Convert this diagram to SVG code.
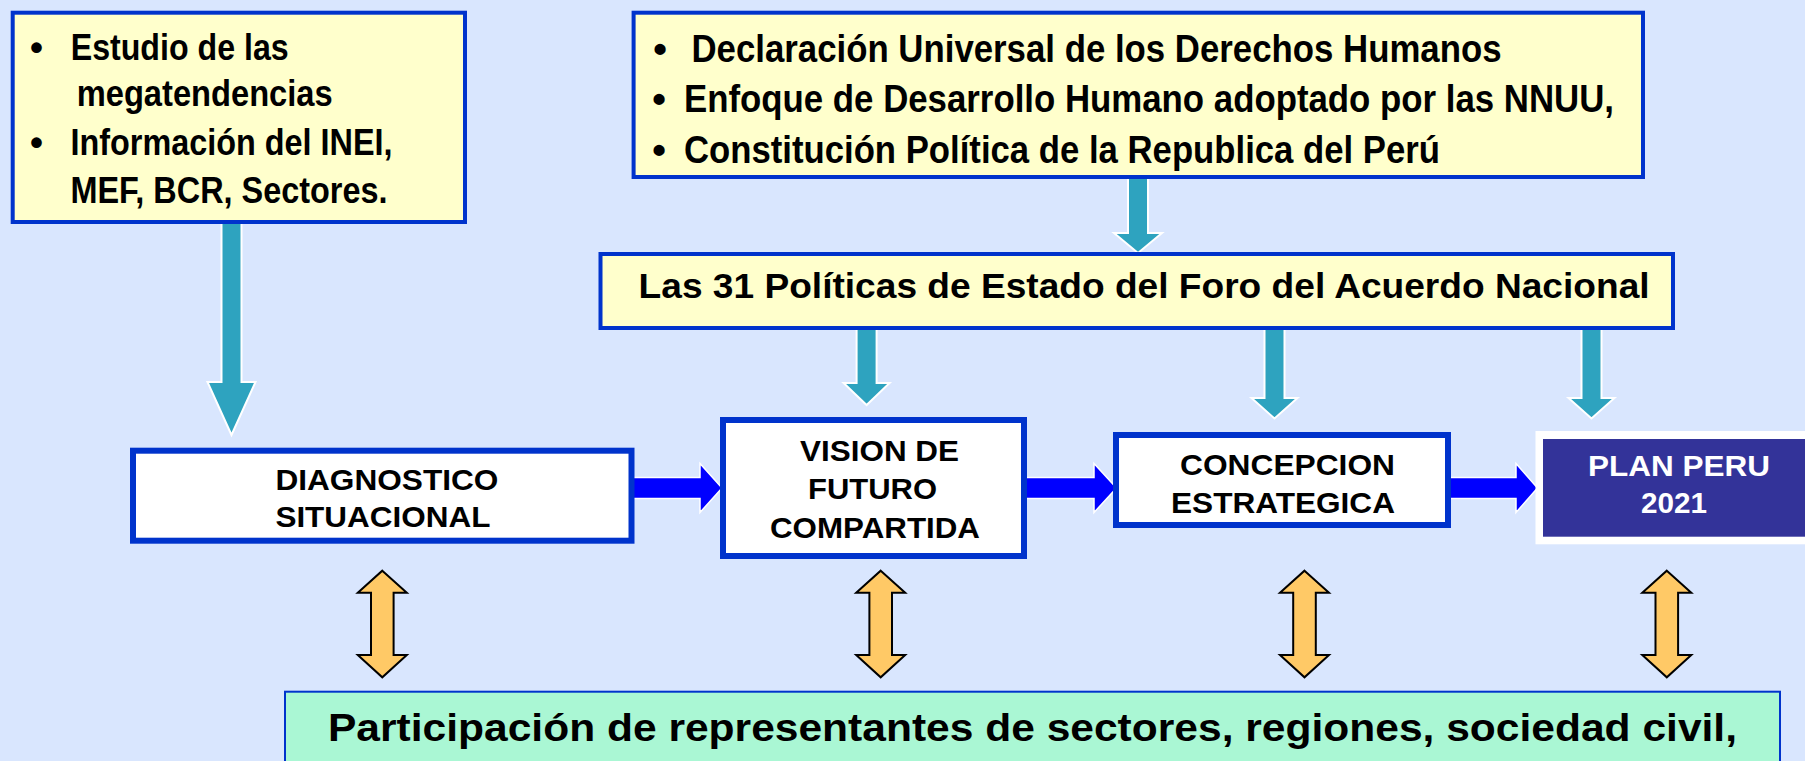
<svg xmlns="http://www.w3.org/2000/svg" width="1805" height="761" viewBox="0 0 1805 761">
<style>
text{font-family:"Liberation Sans",Arial,sans-serif;font-weight:bold;fill:#000}
.src{fill:#FFFFCC;stroke:#0033CC;stroke-width:4}
.node{fill:#FFFFFF;stroke:#0033CC;stroke-width:6}
.teal{fill:#2EA3BF;stroke:#FFFFFF;stroke-width:2;stroke-linejoin:miter}
.blue{fill:#0000FF;stroke:#FFFFFF;stroke-width:1.5}
.orange{fill:#FFC966;stroke:#000;stroke-width:2}
.t36{font-size:37px}
.t38{font-size:39px}
.t35{font-size:35.5px}
.t29{font-size:29.5px}
.t39{font-size:39.5px}
.w{fill:#FFFFFF}
</style>
<rect x="0" y="0" width="1805" height="761" fill="#D9E6FE"/>

<g id="connectors">
  <polygon class="teal" points="221.5,222 241.5,222 241.5,382 255.5,382 231.5,435 207.5,382 221.5,382"/>
  <polygon class="teal" points="1128,177 1148,177 1148,233 1162,233 1138,253 1114,233 1128,233"/>
  <polygon class="teal" points="856.6,328 876.6,328 876.6,383 889.6,383 866.6,405 843.6,383 856.6,383"/>
  <polygon class="teal" points="1264.5,328 1284.5,328 1284.5,398 1297.5,398 1274.5,418.5 1251.5,398 1264.5,398"/>
  <polygon class="teal" points="1581.5,328 1601.5,328 1601.5,398 1614.5,398 1591.5,418.5 1568.5,398 1581.5,398"/>
  <polygon class="blue" points="632,477.5 700,477.5 700,463.5 722,488 700,512.5 700,498.5 632,498.5"/>
  <polygon class="blue" points="1025,477.5 1094,477.5 1094,463.5 1116.5,488 1094,512.5 1094,498.5 1025,498.5"/>
  <polygon class="blue" points="1450,477.5 1516,477.5 1516,463.5 1537.5,488 1516,512.5 1516,498.5 1450,498.5"/>
  <polygon class="orange" points="382.3,570.7 406.8,592.7 393.6,592.7 393.6,655 406.8,655 382.3,677.3 357.8,655 371,655 371,592.7 357.8,592.7"/>
  <polygon class="orange" points="880.7,570.7 905.2,592.7 892,592.7 892,655 905.2,655 880.7,677.3 856.2,655 869.4,655 869.4,592.7 856.2,592.7"/>
  <polygon class="orange" points="1304.5,570.7 1329,592.7 1315.8,592.7 1315.8,655 1329,655 1304.5,677.3 1280,655 1293.2,655 1293.2,592.7 1280,592.7"/>
  <polygon class="orange" points="1666.8,570.7 1691.3,592.7 1678.1,592.7 1678.1,655 1691.3,655 1666.8,677.3 1642.3,655 1655.5,655 1655.5,592.7 1642.3,592.7"/>
</g>

<g id="fuentes">
  <rect class="src" x="12.7" y="12.7" width="452.3" height="209.3"/>
  <text class="t36" x="36.5" y="59.5" text-anchor="middle">•</text>
  <text class="t36" x="70.7" y="59.5" textLength="218" lengthAdjust="spacingAndGlyphs">Estudio de las</text>
  <text class="t36" x="76.7" y="105.5" textLength="256" lengthAdjust="spacingAndGlyphs">megatendencias</text>
  <text class="t36" x="36.5" y="155" text-anchor="middle">•</text>
  <text class="t36" x="70.5" y="155" textLength="322" lengthAdjust="spacingAndGlyphs">Información del INEI,</text>
  <text class="t36" x="70.5" y="203" textLength="317" lengthAdjust="spacingAndGlyphs">MEF, BCR, Sectores.</text>
</g>

<g id="marco">
  <rect class="src" x="633.6" y="12.7" width="1009.4" height="164.3"/>
  <text class="t38" x="660" y="62" text-anchor="middle">•</text>
  <text class="t38" x="691.5" y="62" textLength="810" lengthAdjust="spacingAndGlyphs">Declaración Universal de los Derechos Humanos</text>
  <text class="t38" x="659" y="111.7" text-anchor="middle">•</text>
  <text class="t38" x="684" y="111.7" textLength="930" lengthAdjust="spacingAndGlyphs">Enfoque de Desarrollo Humano adoptado por las NNUU,</text>
  <text class="t38" x="659" y="163" text-anchor="middle">•</text>
  <text class="t38" x="684" y="163" textLength="756" lengthAdjust="spacingAndGlyphs">Constitución Política de la Republica del Perú</text>
</g>

<g id="politicas">
  <rect class="src" x="600.5" y="254" width="1072.5" height="74"/>
  <text class="t35" x="638.6" y="298" textLength="1011" lengthAdjust="spacingAndGlyphs">Las 31 Políticas de Estado del Foro del Acuerdo Nacional</text>
</g>

<g id="diagnostico">
  <rect class="node" x="133" y="450.7" width="498.5" height="90"/>
  <text class="t29" x="275.4" y="490" textLength="223" lengthAdjust="spacingAndGlyphs">DIAGNOSTICO</text>
  <text class="t29" x="275.4" y="527" textLength="215" lengthAdjust="spacingAndGlyphs">SITUACIONAL</text>
</g>

<g id="vision">
  <rect class="node" x="723" y="420" width="301" height="136"/>
  <text class="t29" x="800" y="461" textLength="159" lengthAdjust="spacingAndGlyphs">VISION DE</text>
  <text class="t29" x="808" y="499" textLength="129" lengthAdjust="spacingAndGlyphs">FUTURO</text>
  <text class="t29" x="770" y="538" textLength="210" lengthAdjust="spacingAndGlyphs">COMPARTIDA</text>
</g>

<g id="concepcion">
  <rect class="node" x="1116" y="435" width="332" height="90"/>
  <text class="t29" x="1180" y="475" textLength="215" lengthAdjust="spacingAndGlyphs">CONCEPCION</text>
  <text class="t29" x="1171" y="513" textLength="224" lengthAdjust="spacingAndGlyphs">ESTRATEGICA</text>
</g>

<g id="planperu">
  <rect x="1535.5" y="431" width="280" height="113.3" fill="#FFFFFF"/>
  <rect x="1543" y="439" width="270" height="97.7" fill="#333399"/>
  <text class="t29 w" x="1588" y="476" textLength="182" lengthAdjust="spacingAndGlyphs">PLAN PERU</text>
  <text class="t29 w" x="1641" y="513" textLength="66" lengthAdjust="spacingAndGlyphs">2021</text>
</g>

<g id="participacion">
  <rect x="285" y="691.7" width="1495" height="90" fill="#AAF7D4" stroke="#0033CC" stroke-width="2"/>
  <text class="t39" x="328" y="740.7" textLength="1409" lengthAdjust="spacingAndGlyphs">Participación de representantes de sectores, regiones, sociedad civil,</text>
</g>
</svg>
